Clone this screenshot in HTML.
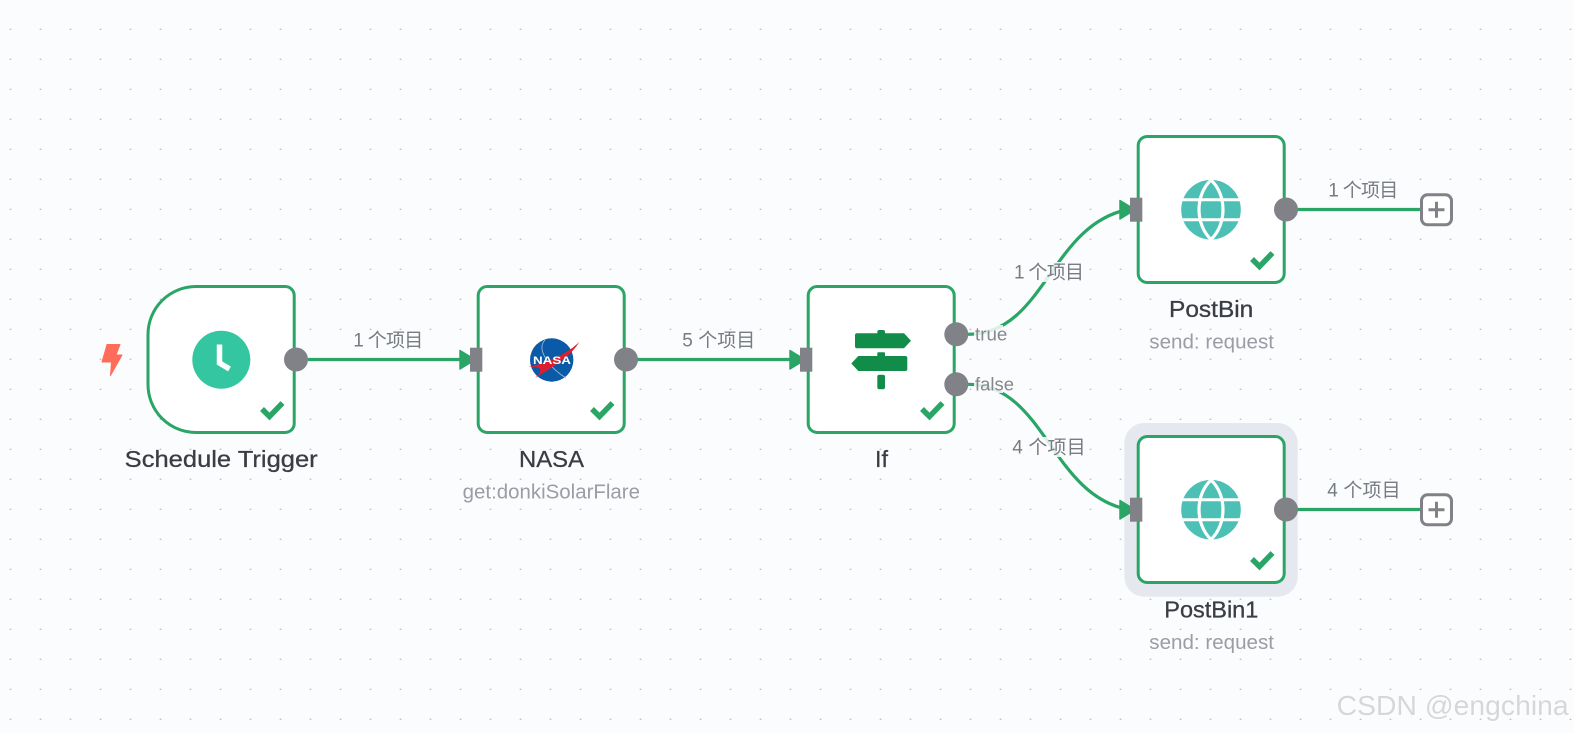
<!DOCTYPE html>
<html><head><meta charset="utf-8"><title>Workflow</title>
<style>
html,body{margin:0;padding:0;background:#fbfcfe;overflow:hidden}
svg{display:block;position:absolute;left:0;top:0}
text{font-family:"Liberation Sans","Noto Sans CJK SC",sans-serif}
.n{font-size:23.5px;fill:#3a3d44;stroke:#3a3d44;stroke-width:.3}
.s{font-size:20px;fill:#9a9da5}
.l{font-size:19px;fill:#777b82}
.o{font-size:18px;fill:#84878e}
.node{fill:#fff;stroke:#2aa566;stroke-width:3}
.edge{fill:none;stroke:#2aa566;stroke-width:3.2}
.chk{fill:none;stroke:#2aa566;stroke-width:5.5}
.arr{fill:#2aa566;stroke:#2aa566;stroke-width:1.5;stroke-linejoin:round}
.pt{fill:#808287}
.pb{fill:#fff;stroke:#808287;stroke-width:3}
</style></head><body>
<svg width="1574" height="733" viewBox="0 0 1574 733" xmlns="http://www.w3.org/2000/svg">
<defs><pattern id="d" width="30" height="30" patternUnits="userSpaceOnUse"><circle cx="10.5" cy="29.5" r=".95" fill="#bfc3c9"/></pattern></defs>
<rect width="1574" height="733" fill="#fbfcfe"/>
<rect width="1574" height="733" fill="url(#d)"/>

<!-- halo -->
<rect x="1124.3" y="423" width="173.4" height="173.7" rx="20" fill="#e5e8ef"/>

<!-- edges -->
<path class="edge" d="M308 359.5H461"/>
<path class="edge" d="M637 359.5H790"/>
<path class="edge" d="M968 334.3C1045 334.3 1050 225 1128 209.5"/>
<path class="edge" d="M968 384.3C1045 384.3 1050 494 1128 509.5"/>
<path class="edge" d="M1297 209.5H1421"/>
<path class="edge" d="M1297 509.5H1421"/>

<!-- nodes -->
<path class="node" d="M196 286.5H285.2a9 9 0 0 1 9 9V423.5a9 9 0 0 1-9 9H196a48 48 0 0 1-48-48V334.5a48 48 0 0 1 48-48Z"/>
<rect class="node" x="478.2" y="286.5" width="146" height="146" rx="9"/>
<rect class="node" x="808.2" y="286.5" width="146" height="146" rx="9"/>
<rect class="node" x="1138.2" y="136.5" width="146" height="146" rx="9"/>
<rect class="node" x="1138.2" y="436.5" width="146" height="146" rx="9"/>

<!-- arrows & input ports -->
<path class="arr" d="M460 350.5V369L475 359.7Z"/><rect class="pt" x="470" y="347.7" width="12.3" height="24"/>
<path class="arr" d="M790 350.5V369L805 359.7Z"/><rect class="pt" x="800" y="347.7" width="12.3" height="24"/>
<path class="arr" d="M1120 200.5V219L1135 209.7Z"/><rect class="pt" x="1130" y="197.7" width="12.3" height="24"/>
<path class="arr" d="M1120 500.5V519L1135 509.7Z"/><rect class="pt" x="1130" y="497.7" width="12.3" height="24"/>

<!-- output ports -->
<circle class="pt" cx="296" cy="359.5" r="12"/>
<circle class="pt" cx="626" cy="359.5" r="12"/>
<circle class="pt" cx="956.3" cy="334.3" r="12"/>
<circle class="pt" cx="956.3" cy="384.3" r="12"/>
<circle class="pt" cx="1286" cy="209.5" r="12"/>
<circle class="pt" cx="1286" cy="509.5" r="12"/>

<!-- plus buttons -->
<rect class="pb" x="1421.5" y="194.8" width="30" height="30" rx="6"/>
<path d="M1428.5 209.8H1444.5M1436.5 201.8V217.8" stroke="#808287" stroke-width="3" fill="none"/>
<rect class="pb" x="1421.5" y="494.8" width="30" height="30" rx="6"/>
<path d="M1428.5 509.8H1444.5M1436.5 501.8V517.8" stroke="#808287" stroke-width="3" fill="none"/>

<!-- checks -->
<path class="chk" d="M262 409L269.5 416.5L282.5 403"/>
<path class="chk" d="M592 409L599.5 416.5L612.5 403"/>
<path class="chk" d="M922 409L929.5 416.5L942.5 403"/>
<path class="chk" d="M1252 259L1259.5 266.5L1272.5 253"/>
<path class="chk" d="M1252 559L1259.5 566.5L1272.5 553"/>

<!-- lightning -->
<path d="M107 344.5H120L116 355H122L110.5 375.5L111.5 362H102Z" fill="#ff6d5a" stroke="#ff6d5a" stroke-width="1" stroke-linejoin="round"/>

<!-- clock -->
<circle cx="221.3" cy="359.7" r="29" fill="#33c6a0"/>
<path d="M219.5 344.5V363L229.5 369" fill="none" stroke="#fff" stroke-width="5.5"/>

<!-- nasa -->
<circle cx="551.7" cy="360" r="21.7" fill="#0b5aa8"/>
<path d="M545 340C535 350 552 370 566 378" fill="none" stroke="#9fc0e0" stroke-width=".8"/>
<path d="M528.5 367C550 362 570 352 579.5 341.5C572 355 555 366 535 378C545 369 540 366 528.5 367Z" fill="#dd1f2d"/>
<text x="533" y="364" font-size="11" font-weight="700" fill="#fff" textLength="38" lengthAdjust="spacingAndGlyphs">NASA</text>

<!-- if icon -->
<g fill="#128c49">
<rect x="877.3" y="330" width="7.7" height="6" rx="2"/>
<path d="M857 333.3H904L911 340.8L904 348.3H857a2 2 0 0 1-2-2V335.3a2 2 0 0 1 2-2Z"/>
<rect x="877.3" y="352.3" width="7.7" height="6" rx="1"/>
<path d="M858.3 356H905.3a2 2 0 0 1 2 2V369a2 2 0 0 1-2 2H858.3L851.3 363.5Z"/>
<rect x="877.3" y="374.7" width="7.7" height="14.6" rx="2"/>
</g>

<!-- globes -->
<g>
<circle cx="1211" cy="209.7" r="29.8" fill="#4dc0b5"/>
<path d="M1211 180C1195 195 1195 224 1211 239.5C1227 224 1227 195 1211 180Z" fill="none" stroke="#fff" stroke-width="3.2"/>
<path d="M1180 199.7H1242M1180 219.7H1242" stroke="#fff" stroke-width="3"/>
</g>
<g>
<circle cx="1211" cy="509.7" r="29.8" fill="#4dc0b5"/>
<path d="M1211 480C1195 495 1195 524 1211 539.5C1227 524 1227 495 1211 480Z" fill="none" stroke="#fff" stroke-width="3.2"/>
<path d="M1180 499.7H1242M1180 519.7H1242" stroke="#fff" stroke-width="3"/>
</g>

<!-- label masks -->
<rect x="974" y="325" width="29" height="18" fill="#fbfcfe" opacity=".85"/>
<rect x="974" y="375" width="29" height="18" fill="#fbfcfe" opacity=".85"/>
<rect x="1014" y="262" width="70" height="20" fill="#fbfcfe" opacity=".85"/>
<rect x="1012" y="437" width="74" height="20" fill="#fbfcfe" opacity=".85"/>

<!-- labels -->
<text class="l" x="353.3" y="346.5" textLength="70" lengthAdjust="spacing">1 个项目</text>
<text class="l" x="682.3" y="346.5" textLength="73" lengthAdjust="spacing">5 个项目</text>
<text class="l" x="1014" y="278.5" textLength="70" lengthAdjust="spacing">1 个项目</text>
<text class="l" x="1012.3" y="453.5" textLength="73.4" lengthAdjust="spacing">4 个项目</text>
<text class="l" x="1328.3" y="196.5" textLength="70" lengthAdjust="spacing">1 个项目</text>
<text class="l" x="1327.3" y="496.5" textLength="73.4" lengthAdjust="spacing">4 个项目</text>
<text class="o" x="975" y="340.5" textLength="32.3" lengthAdjust="spacingAndGlyphs">true</text>
<text class="o" x="975" y="390.5" textLength="39" lengthAdjust="spacingAndGlyphs">false</text>

<text class="n" x="124.7" y="466.9" textLength="193" lengthAdjust="spacingAndGlyphs">Schedule Trigger</text>
<text class="n" x="519" y="466.9" textLength="65" lengthAdjust="spacingAndGlyphs">NASA</text>
<text class="n" x="875" y="466.9" textLength="13" lengthAdjust="spacingAndGlyphs">If</text>
<text class="n" x="1169" y="316.9" textLength="84.3" lengthAdjust="spacingAndGlyphs">PostBin</text>
<text class="n" x="1164.3" y="617.4" textLength="94" lengthAdjust="spacingAndGlyphs">PostBin1</text>
<text class="s" x="462.7" y="498.5" textLength="177.3" lengthAdjust="spacingAndGlyphs">get:donkiSolarFlare</text>
<text class="s" x="1149.3" y="348.5" textLength="124.7" lengthAdjust="spacingAndGlyphs">send: request</text>
<text class="s" x="1149.3" y="649" textLength="124.7" lengthAdjust="spacingAndGlyphs">send: request</text>

<!-- watermark -->
<text x="1337.7" y="715.7" font-size="28" fill="#ffffff" textLength="232" lengthAdjust="spacingAndGlyphs">CSDN @engchina</text>
<text x="1336.7" y="715" font-size="28" fill="#d6d7d9" textLength="232" lengthAdjust="spacingAndGlyphs">CSDN @engchina</text>
</svg>
</body></html>
